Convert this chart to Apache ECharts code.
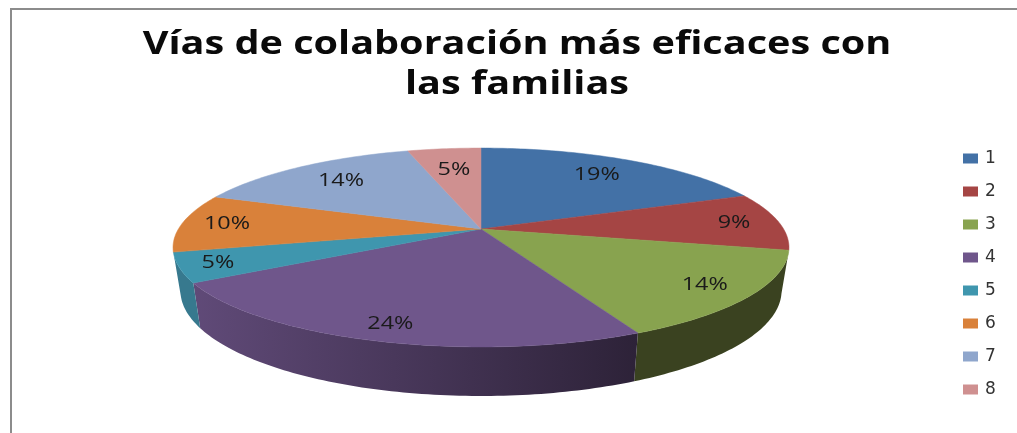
<!DOCTYPE html>
<html>
<head>
<meta charset="utf-8">
<style>
  html, body { margin: 0; padding: 0; background: #fff; }
  #chart { width: 1017px; height: 433px; }
</style>
<script src="https://cdn.jsdelivr.net/npm/echarts@6/dist/echarts.min.js"></script>
</head>
<body>
<div id="chart"></div>
<script>
// valores (los angulos no coinciden del todo con los % redondeados)
const categories = ['1', '2', '3', '4', '5', '6', '7', '8'];
const sliceValues = [19, 9.4, 14.5, 23.6, 4.8, 9.5, 14.6, 4.6];
const sliceLabels = ['19%', '9%', '14%', '24%', '5%', '10%', '14%', '5%'];
const titleText = 'Vías de colaboración más eficaces con\nlas familias';

const topColors = ['#4371a6', '#a54544', '#88a34f', '#6f568b', '#3f96ae', '#d9813a', '#8fa6cc', '#cf9090'];
const wallColors = [
  ['#2f4f75', '#2f4f75'], ['#733030', '#733030'], ['#3a4220', '#3a4220'], ['#604a78', '#2d2238'],
  ['#37798e', '#37798e'], ['#97592a', '#97592a'], ['#64748f', '#64748f'], ['#906464', '#906464']
];
const labelRadius = [0.76, 0.85, 0.85, 0.87, 0.88, 0.85, 0.75, 0.7];

// pie geometry: circle seen with perspective
const cx = 481, cy = 229, rx = 302.6, ry = 96, persp = 0.186;
const total = sliceValues.reduce((a, b) => a + b, 0);
const startAngles = [];
sliceValues.reduce((acc, v, i) => { startAngles[i] = acc; return acc + v / total * 360; }, 0);

function project(deg, r) {
  const t = deg * Math.PI / 180;
  const w = 1 + persp * r * Math.cos(t);
  return [cx + rx * r * Math.sin(t) / w, cy - ry * r * Math.cos(t) / w];
}
function drop(p) {
  const dy = p[1] - cy;
  return [cx + (p[0] - cx) * 0.976, p[1] + 42 + 0.06 * dy];
}
function arcPoints(i) {
  const a0 = startAngles[i], a1 = a0 + sliceValues[i] / total * 360;
  const pts = [];
  const n = Math.ceil(a1 - a0);
  for (let k = 0; k <= n; k++) pts.push(project(a0 + (a1 - a0) * k / n, 1));
  return pts;
}

function renderWall(params) {
  const i = params.dataIndex;
  // only the slices facing us show a wall
  const mid = startAngles[i] + sliceValues[i] / total * 180;
  if (mid < 95 || mid > 265) return null;
  const arc = arcPoints(i);
  const xs = arc.map(p => p[0]);
  const lower = arc.map(drop).reverse();
  return {
    type: 'polygon',
    shape: { points: arc.concat(lower) },
    style: {
      fill: new echarts.graphic.LinearGradient(Math.min(...xs), 0, Math.max(...xs), 0, [
        { offset: 0, color: wallColors[i][0] },
        { offset: 1, color: wallColors[i][1] }
      ], true)
    }
  };
}

function renderTop(i) {
  return function () {
    return {
      type: 'polygon',
      shape: { points: [[cx, cy]].concat(arcPoints(i)) },
      style: { fill: topColors[i], stroke: topColors[i], lineWidth: 0.5 }
    };
  };
}

function renderLabel(params) {
  const i = params.dataIndex;
  const mid = startAngles[i] + sliceValues[i] / total * 180;
  const p = project(mid, labelRadius[i]);
  return {
    type: 'text',
    x: p[0],
    y: p[1],
    scaleX: 1.3,
    style: {
      text: sliceLabels[i],
      fontFamily: 'Open Sans',
      fontSize: 18,
      fill: '#1a1a1a',
      align: 'center',
      verticalAlign: 'middle'
    }
  };
}

const series = [{
  type: 'custom',
  name: 'paredes',
  coordinateSystem: 'none',
  silent: true,
  z: 1,
  data: sliceValues,
  renderItem: renderWall
}];
categories.forEach((name, i) => {
  series.push({
    type: 'custom',
    name: name,
    coordinateSystem: 'none',
    z: 2,
    itemStyle: { color: topColors[i] },
    data: [sliceValues[i]],
    renderItem: renderTop(i)
  });
});
series.push({
  type: 'custom',
  name: 'etiquetas',
  coordinateSystem: 'none',
  silent: true,
  z: 3,
  data: sliceValues,
  renderItem: renderLabel
});

const myChart = echarts.init(document.getElementById('chart'));
myChart.setOption({
  animation: false,
  backgroundColor: '#fff',
  legend: {
    data: categories,
    orient: 'vertical',
    left: 963,
    top: 150,
    padding: 0,
    itemWidth: 15,
    itemHeight: 10,
    itemGap: 16,
    icon: 'rect',
    selectedMode: false,
    textStyle: { fontFamily: 'DejaVu Sans', fontSize: 17, lineHeight: 16, color: '#333', padding: [0, 0, 0, 2] }
  },
  graphic: [
    { type: 'rect', shape: { x: 10, y: 8, width: 1007, height: 2 }, style: { fill: '#8c8c8c' } },
    { type: 'rect', shape: { x: 10, y: 8, width: 2, height: 425 }, style: { fill: '#8c8c8c' } },
    // title is stretched sideways in the original, title component can't do that
    {
      type: 'text',
      x: 517,
      y: 25,
      scaleX: 1.2,
      style: {
        text: titleText,
        fontFamily: 'Open Sans',
        fontWeight: 700,
        fontSize: 33,
        lineHeight: 40,
        fill: '#0a0a0a',
        align: 'center',
        verticalAlign: 'top'
      }
    }
  ],
  series: series
});
</script>
</body>
</html>
